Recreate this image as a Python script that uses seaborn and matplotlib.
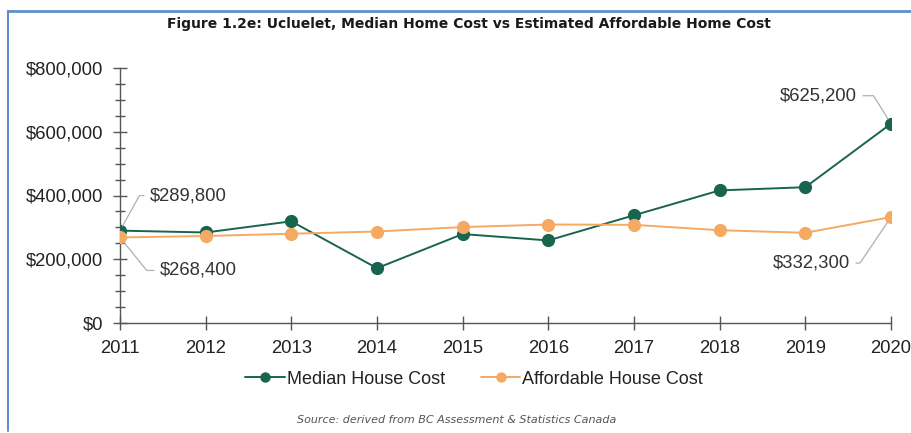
import matplotlib
matplotlib.use("Agg")
import matplotlib.pyplot as plt
from matplotlib.lines import Line2D
from matplotlib.ticker import MultipleLocator, FuncFormatter
import seaborn as sns
import pandas as pd

years = [2011, 2012, 2013, 2014, 2015, 2016, 2017, 2018, 2019, 2020]
median_cost = [289800, 284000, 319000, 172000, 279000, 259000, 338000, 416000, 426000, 625200]
affordable_cost = [268400, 273000, 280000, 287000, 301000, 309000, 308000, 291000, 283000, 332300]
series_names = ["Median House Cost", "Affordable House Cost"]
title_text = "Figure 1.2e: Ucluelet, Median Home Cost vs Estimated Affordable Home Cost"
source_text = "Source: derived from BC Assessment & Statistics Canada"

df = pd.DataFrame({
    "year": years * 2,
    "value": median_cost + affordable_cost,
    "series": [series_names[0]] * len(years) + [series_names[1]] * len(years),
})

sns.set_style("ticks")
plt.rcParams["font.family"] = ["Liberation Sans", "DejaVu Sans"]

teal = "#17654f"
orange = "#f5a963"
palette = {series_names[0]: teal, series_names[1]: orange}

fig = plt.figure(figsize=(9.11, 4.33), dpi=100)
ax = fig.add_axes([120 / 911, 110 / 433, 771 / 911, 255 / 433])

sns.lineplot(data=df, x="year", y="value", hue="series", palette=palette,
             marker="o", markersize=9.5, markeredgewidth=0, linewidth=1.4,
             legend=False, ax=ax, zorder=3)

ax.set_xlim(2011, 2020)
ax.set_ylim(0, 800000)
ax.set_xticks(years)
ax.yaxis.set_major_locator(MultipleLocator(200000))
ax.yaxis.set_minor_locator(MultipleLocator(50000))
ax.yaxis.set_major_formatter(FuncFormatter(lambda v, p: f"${v:,.0f}"))
ax.set_xlabel("")
ax.set_ylabel("")
for s in ["top", "right"]:
    ax.spines[s].set_visible(False)
for s in ["left", "bottom"]:
    ax.spines[s].set_color("#555555")
    ax.spines[s].set_linewidth(1.0)
ax.tick_params(axis="both", which="major", direction="inout", length=10,
               width=1.0, color="#555555", labelsize=13.3, labelcolor="#222222")
ax.tick_params(axis="y", which="minor", direction="inout", length=7,
               width=1.0, color="#555555")
ax.tick_params(axis="y", which="major", pad=7)
ax.tick_params(axis="x", which="major", pad=7)
for lbl in ax.get_xticklabels():
    lbl.set_clip_on(False)


def label(value, xy, offset, ha, angle_b):
    ax.annotate(f"${value:,}", xy=xy, xytext=offset, ha=ha, va="center",
                fontsize=13.3, color="#333333", textcoords="offset pixels",
                annotation_clip=False,
                arrowprops=dict(arrowstyle="-", color="#b0b0b0", lw=0.9,
                                shrinkA=2, shrinkB=4,
                                connectionstyle=f"angle,angleA=0,angleB={angle_b},rad=0"))


label(median_cost[0], (years[0], median_cost[0]), (30, 35), "left", 61)
label(affordable_cost[0], (years[0], affordable_cost[0]), (40, -33), "left", -51)
label(median_cost[-1], (years[-1], median_cost[-1]), (-34, 28), "right", 122)
label(affordable_cost[-1], (years[-1], affordable_cost[-1]), (-41, -46), "right", -124)

handles = [Line2D([0], [0], color=palette[n], marker="o", markersize=7.5,
                  markeredgewidth=0, linewidth=1.4) for n in series_names]
fig.legend(handles, series_names, loc="center", bbox_to_anchor=(474 / 911, 1 - 379 / 433),
           ncol=2, frameon=False, fontsize=13, handlelength=2.2, handletextpad=0.1,
           columnspacing=2.0, labelcolor="#222222")

fig.text(469 / 911, 1 - 24 / 433, title_text, ha="center", va="center",
         fontsize=10, fontweight="bold", family=["DejaVu Sans"], color="#1a1a1a")
fig.text(457 / 911, 1 - 420 / 433, source_text, ha="center", va="center",
         fontsize=8, style="italic", family=["DejaVu Sans"], color="#555555")

border = "#5f8fca"
fig.add_artist(Line2D([8 / 911, 1.0], [1 - 11 / 433, 1 - 11 / 433], color=border, lw=2.0,
                      transform=fig.transFigure))
fig.add_artist(Line2D([8 / 911, 8 / 911], [1 - 11 / 433, 1 - 431 / 433], color=border, lw=1.5,
                      transform=fig.transFigure))

fig.savefig("out.png", dpi=100)
